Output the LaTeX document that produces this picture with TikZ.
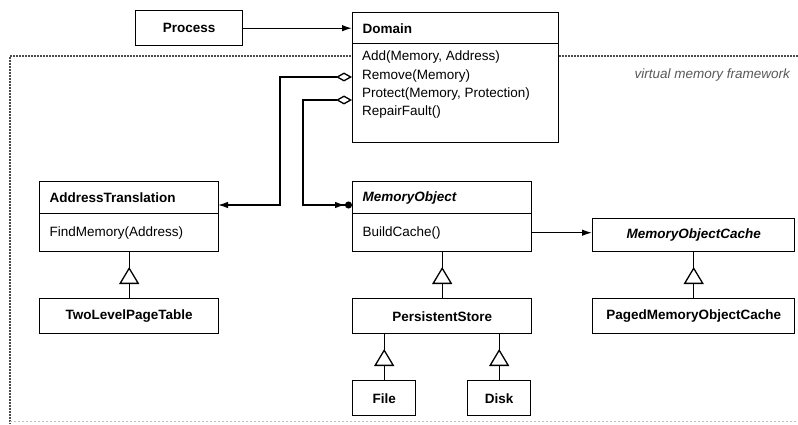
\documentclass[tikz,border=0pt]{standalone}
\usepackage{fontspec}
\setmainfont{Liberation Sans}
\usetikzlibrary{arrows.meta,decorations.markings,calc}
\newcommand{\msz}{\fontsize{13.5}{18.3}\selectfont}
\begin{document}
\begin{tikzpicture}[x=1pt,y=1pt,
  base/.style={draw, line width=1.4pt, fill=white, anchor=north west, inner ysep=0pt},
  cbox/.style 2 args={base, minimum width=#1, minimum height=#2, inner xsep=0pt, align=center, font=\msz\bfseries},
  lbox/.style 2 args={base, text width=#1, minimum height=#2, inner xsep=10pt, align=left, font=\msz},
  conn/.style={line width=1.3pt},
  fhead/.style={-{Latex[length=10pt,width=6.5pt]}},
  agg/.style={{Diamond[open,length=16pt,width=9pt,line width=1.3pt]}-{Latex[length=10pt,width=6.5pt]}},
  aggmany/.style={{Diamond[open,length=16pt,width=9pt,line width=1.3pt]}-{Latex[length=10pt,width=6.5pt]Circle[length=7pt]}},
  inh/.style={conn, postaction={decorate}, decoration={markings,
      mark=at position 31pt with {\arrow{Triangle[length=17pt,width=20pt,fill=white,line width=1.3pt]}}}},
  frame/.style={dashed, dash pattern=on 2pt off 1pt, line width=1.2pt, draw=black!70},
]
\useasboundingbox (0,0) rectangle (798,424);
% framework frame
\coordinate (ftl) at (10,368);
\coordinate (ftr) at (798,368);
\coordinate (fbl) at (10,0);
\coordinate (fbr) at (798,3);
\draw[frame] (ftr) -- (ftl) -- (fbl);
\draw[draw=black!25, line width=0.8pt, dash pattern=on 2pt off 2pt] (10,3) -- (fbr);
\node[font=\fontsize{13.5}{16}\selectfont\itshape, text=black!65, anchor=east, inner sep=0pt] (vmf) at (790,349) {virtual memory framework};

% boxes
\node[cbox={107pt}{35pt}] (process) at (135,414) {Process};
\node[lbox={186pt}{31pt}, font=\msz\bfseries] (domh) at (352,412) {Domain};
\node[base, minimum width=206pt, minimum height=99pt] (domm) at (352,381) {};
\node[anchor=north west, inner sep=0pt, align=left, font=\msz] (dommtext) at (362,373)
  {Add(Memory, Address)\\Remove(Memory)\\Protect(Memory, Protection)\\RepairFault()};

\node[lbox={159pt}{32pt}, font=\msz\bfseries] (ath) at (39,243) {AddressTranslation};
\node[lbox={159pt}{38pt}] (atm) at (39,211) {FindMemory(Address)};
\node[cbox={179pt}{35pt}] (tlpt) at (39,126) {TwoLevelPageTable};

\node[lbox={159pt}{32pt}, font=\msz\bfseries\itshape] (moh) at (352,243) {MemoryObject};
\node[lbox={159pt}{38pt}] (mom) at (352,211) {BuildCache()};
\node[cbox={179pt}{35pt}] (ps) at (352,126) {PersistentStore};

\node[cbox={202pt}{33pt}, font=\msz\bfseries\itshape] (moc) at (592,206) {MemoryObjectCache};
\node[cbox={202pt}{35pt}] (pmoc) at (592,126) {PagedMemoryObjectCache};

\node[cbox={63pt}{35pt}] (file) at (352,44) {File};
\node[cbox={63pt}{35pt}] (disk) at (467,44) {Disk};

% connectors
\draw[conn, fhead] (process.east) -- (domh.west);

\coordinate (rem) at (352,347);
\coordinate (bend1) at (280,347);
\coordinate (atin) at (218,219);
\draw[conn, agg] (rem) -- (bend1) |- (atin);

\coordinate (prot) at (352,324);
\coordinate (bend2) at (303,324);
\coordinate (moin) at (352,219);
\draw[conn, aggmany] (prot) -- (bend2) |- (moin);

\draw[conn, fhead] (mom.east) -- (mom.east -| moc.west);

\draw[inh] (tlpt.north) -- (atm.south);
\draw[inh] (ps.north) -- (mom.south);
\draw[inh] (pmoc.north) -- (moc.south);
\draw[inh] (file.north) -- (file.north |- ps.south);
\draw[inh] (disk.north) -- (disk.north |- ps.south);
\end{tikzpicture}
\end{document}
